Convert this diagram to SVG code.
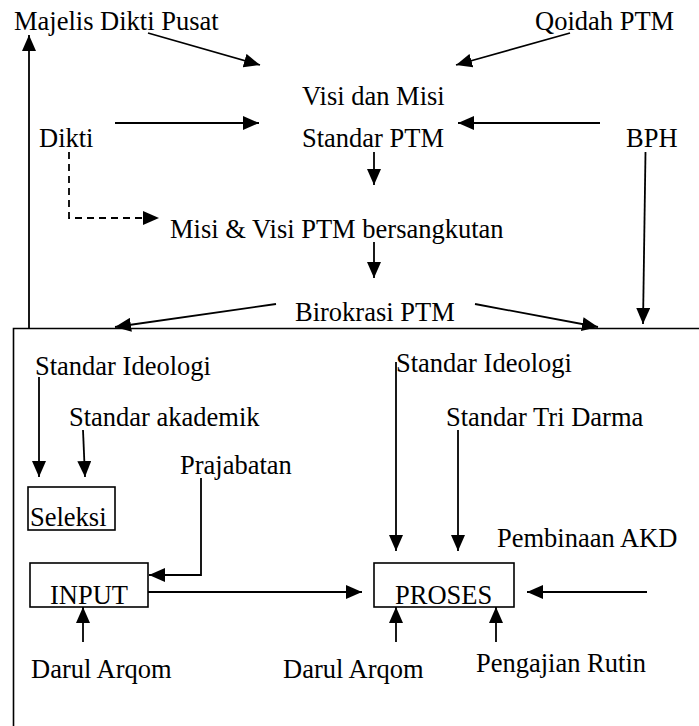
<svg xmlns="http://www.w3.org/2000/svg" width="699" height="726" viewBox="0 0 699 726">
<style>
text{font-family:"Liberation Serif","Times New Roman",serif;font-size:26.5px;fill:#000}
.ln{stroke:#000;stroke-width:1.8;fill:none}
.bx{stroke:#000;stroke-width:1.6;fill:none}
.ar{marker-end:url(#ah)}
.dash{stroke-dasharray:7 5}
</style>
<defs>
<marker id="ah" markerUnits="userSpaceOnUse" markerWidth="16" markerHeight="14" refX="16" refY="7" orient="auto">
<path d="M0,0 L16,7 L0,14 z" fill="#000"/>
</marker>
</defs>
<rect width="699" height="726" fill="#fff"/>
<g id="frame"><path class="bx" d="M699,328.5 H13.5 V726"/></g>
<g id="majelis"><text x="14" y="30">Majelis Dikti Pusat</text></g>
<g id="qoidah"><text x="535" y="30">Qoidah PTM</text></g>
<g id="visi"><text x="302" y="105">Visi dan Misi</text><text x="302" y="147">Standar PTM</text></g>
<g id="dikti"><text x="39" y="147">Dikti</text></g>
<g id="bph"><text x="626" y="147">BPH</text></g>
<g id="misi-visi"><text x="170" y="238">Misi &amp; Visi PTM bersangkutan</text></g>
<g id="birokrasi"><text x="295" y="321">Birokrasi PTM</text></g>
<g id="std-ideologi-1"><text x="35" y="375">Standar Ideologi</text></g>
<g id="std-akademik"><text x="69" y="426">Standar akademik</text></g>
<g id="prajabatan"><text x="180" y="474">Prajabatan</text></g>
<g id="seleksi"><rect class="bx" x="28" y="487" width="87" height="43"/><text x="30" y="526">Seleksi</text></g>
<g id="input"><rect class="bx" x="30" y="563" width="118" height="44"/><text x="50" y="604">INPUT</text></g>
<g id="darul-1"><text x="31" y="678">Darul Arqom</text></g>
<g id="std-ideologi-2"><text x="396" y="372">Standar Ideologi</text></g>
<g id="std-tridarma"><text x="446" y="426">Standar Tri Darma</text></g>
<g id="pembinaan"><text x="497" y="547">Pembinaan AKD</text></g>
<g id="proses"><rect class="bx" x="374" y="563" width="140" height="44"/><text x="395" y="604">PROSES</text></g>
<g id="darul-2"><text x="283" y="678">Darul Arqom</text></g>
<g id="pengajian"><text x="476" y="672">Pengajian Rutin</text></g>
<g id="connectors">
<line class="ln ar" x1="29" y1="328" x2="29" y2="35"/>
<line class="ln ar" x1="148" y1="33" x2="260" y2="65"/>
<line class="ln ar" x1="570" y1="33" x2="456" y2="65"/>
<line class="ln ar" x1="115" y1="123" x2="259" y2="123"/>
<line class="ln ar" x1="600" y1="123" x2="458" y2="123"/>
<path class="ln dash ar" d="M69,152 V218 H159"/>
<line class="ln ar" x1="374" y1="152" x2="374" y2="185"/>
<line class="ln ar" x1="374" y1="242" x2="374" y2="278"/>
<line class="ln ar" x1="645.5" y1="152" x2="643" y2="324"/>
<line class="ln ar" x1="276" y1="304" x2="115" y2="327"/>
<line class="ln ar" x1="475" y1="304" x2="598" y2="327"/>
<line class="ln ar" x1="39" y1="377" x2="39" y2="477"/>
<line class="ln ar" x1="83" y1="430" x2="85" y2="477"/>
<path class="ln ar" d="M201,478 V575 H149"/>
<line class="ln ar" x1="83" y1="642" x2="83" y2="607"/>
<line class="ln ar" x1="148" y1="592" x2="362" y2="592"/>
<line class="ln ar" x1="396" y1="362" x2="396" y2="551"/>
<line class="ln ar" x1="458" y1="430" x2="458" y2="551"/>
<line class="ln ar" x1="647" y1="592" x2="527" y2="592"/>
<line class="ln ar" x1="396" y1="642" x2="396" y2="607"/>
<line class="ln ar" x1="496" y1="642" x2="496" y2="607"/>
</g>
</svg>
